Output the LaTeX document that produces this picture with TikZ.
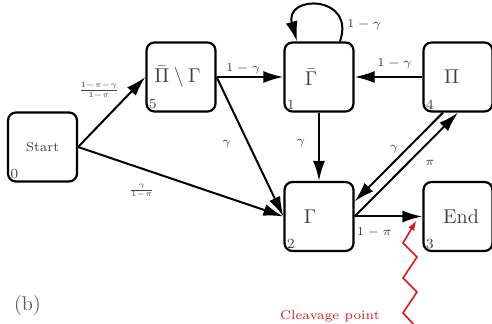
\documentclass[tikz,border=0pt]{standalone}
\usetikzlibrary{arrows.meta}
\definecolor{txt}{gray}{0.25}
\definecolor{cleave}{RGB}{215,25,25}
\newcommand{\smallfrac}[2]{\scalebox{0.8}{$\frac{#1}{#2}$}}
\begin{document}
\begin{tikzpicture}[x=0.5pt,y=-0.5pt,
  box/.style={draw, line width=1.1pt, rounded corners=4pt, minimum width=34.5pt, minimum height=34.5pt, inner sep=0pt, text=txt, font=\normalsize},
  num/.style={anchor=south west, inner sep=1.5pt, font=\scriptsize, text=txt},
  edge/.style={line width=1pt, -{Latex[length=10pt,width=6pt]}},
  lbl/.style={font=\fontsize{6.3}{7.5}\selectfont, text=txt},
  flbl/.style={font=\scriptsize, text=txt}]
\useasboundingbox (0,0) rectangle (492,324);
\node[box] (S) at (42.5,147) {\fontsize{6.6}{8}\selectfont Start};
\node[box] (PG) at (181,77) {$\bar\Pi\setminus\Gamma$\kern3.5pt};
\node[box] (GB) at (319,77) {$\bar\Gamma$\kern8pt};
\node[box] (P) at (458,77) {$\Pi$\kern6.5pt};
\node[box] (G) at (319,216.5) {$\Gamma$\kern9pt};
\node[box] (E) at (458,216.5) {\kern3pt End};
\node[num] (n0) at (S.south west) {0};
\node[num] (n5) at (PG.south west) {5};
\node[num] (n1) at (GB.south west) {1};
\node[num] (n4) at (P.south west) {4};
\node[num] (n2) at (G.south west) {2};
\node[num] (n3) at (E.south west) {3};
\draw[edge] (S.east) -- node[flbl, pos=0.65, anchor=south east, inner sep=1pt] {\smallfrac{1-\pi-\gamma}{1-\pi}} (PG.west);
\draw[edge] (S.east) -- node[flbl, pos=0.31, below=4pt] {\smallfrac{\gamma}{1-\pi}} (G.west);
\draw[edge] (PG.east) -- node[lbl, pos=0.4, above, inner sep=1pt] {$1-\gamma$} (GB.west);
\draw[edge] (PG.east) -- node[lbl, pos=0.48, left=5pt] {$\gamma$} (G.west);
\draw[edge] (GB.south) -- node[lbl, pos=0.45, left=3pt] {$\gamma$} (G.north);
\draw[edge] (P.west) -- node[lbl, pos=0.41, above] {$1-\gamma$} (GB.east);
\draw[edge] ([xshift=10.5pt]GB.north) .. controls +(16,-47) and +(-13,-47) .. node[lbl, pos=0.14, right, inner sep=2pt] {$1-\gamma$} ([xshift=-11pt]GB.north);
\draw[edge] ([xshift=-7.5pt]P.south) -- node[lbl, pos=0.48, above left, inner sep=0.5pt] {$\gamma$} ([yshift=7.5pt]G.east);
\draw[edge] (G.east) -- node[lbl, pos=0.61, below right] {$\pi$} (P.south);
\draw[edge] (G.east) -- node[lbl, pos=0.29, below=2pt] {$1-\pi$} (E.west);
\coordinate (z0) at (417,328);
\coordinate (ztip) at ([xshift=-3pt,yshift=-2pt]E.west);
\draw[cleave, line width=0.8pt, -{Latex[length=5pt,width=3.5pt]}] (z0) -- (403,313) -- (417,292) -- (403,278) -- (417,257) -- (403,243) -- (ztip);
\node[lbl, text=cleave] (cp) at (330,316) {Cleavage point};
\node[text=black!65, font=\normalsize] (b) at (27.5,306) {(b)};
\end{tikzpicture}
\end{document}
